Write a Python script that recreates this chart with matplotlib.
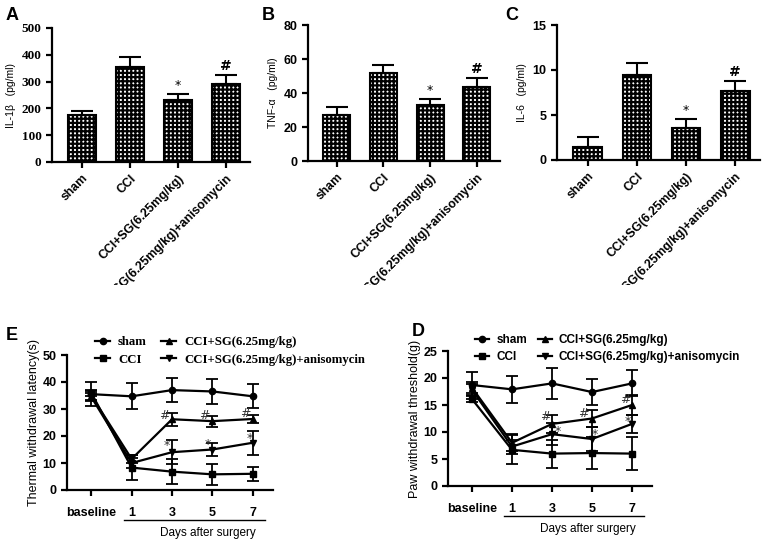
import matplotlib
matplotlib.use("Agg")
import matplotlib.pyplot as plt
import matplotlib.transforms as mtransforms
from matplotlib.lines import Line2D
import numpy as np

plt.rcParams['hatch.linewidth'] = 1.6

groups = ["sham", "CCI", "CCI+SG(6.25mg/kg)", "CCI+SG(6.25mg/kg)+anisomycin"]
il1b = [175, 355, 233, 290]
il1b_err = [15, 37, 22, 35]
tnfa = [27, 52, 33, 43.5]
tnfa_err = [5, 4.5, 3.5, 5.5]
il6 = [1.5, 9.5, 3.6, 7.7]
il6_err = [1.1, 1.3, 1.0, 1.1]
bar_marks = ["", "", "*", "#"]

days = ["baseline", "1", "3", "5", "7"]
series = ["sham", "CCI", "CCI+SG(6.25mg/kg)", "CCI+SG(6.25mg/kg)+anisomycin"]
markers = ["o", "s", "^", "v"]

tw = {
    "sham": [35.5, 34.7, 37.0, 36.5, 34.7],
    "CCI": [36.0, 8.3, 6.8, 5.8, 6.0],
    "CCI+SG(6.25mg/kg)": [35.0, 11.5, 26.2, 25.5, 26.3],
    "CCI+SG(6.25mg/kg)+anisomycin": [34.5, 10.0, 14.0, 15.0, 17.5],
}
tw_err = {
    "sham": [4.5, 4.8, 4.5, 4.5, 4.5],
    "CCI": [1.2, 4.5, 4.5, 4.0, 2.5],
    "CCI+SG(6.25mg/kg)": [1.5, 1.5, 2.5, 2.0, 1.5],
    "CCI+SG(6.25mg/kg)+anisomycin": [1.5, 2.0, 4.5, 2.5, 4.5],
}
pw = {
    "sham": [18.7, 17.9, 19.0, 17.4, 19.0],
    "CCI": [16.1, 6.7, 6.0, 6.1, 6.0],
    "CCI+SG(6.25mg/kg)": [18.2, 8.0, 11.5, 12.5, 15.0],
    "CCI+SG(6.25mg/kg)+anisomycin": [17.8, 7.3, 9.6, 8.7, 11.5],
}
pw_err = {
    "sham": [2.5, 2.5, 2.8, 2.4, 2.4],
    "CCI": [0.5, 2.7, 2.6, 2.9, 3.0],
    "CCI+SG(6.25mg/kg)": [1.0, 1.6, 1.6, 1.5, 1.8],
    "CCI+SG(6.25mg/kg)+anisomycin": [1.0, 1.3, 2.0, 2.3, 1.7],
}
tw_marks = [("#", 2, -0.2, 27.5), ("#", 3, -0.2, 27.5), ("#", 4, -0.18, 28.5),
            ("*", 2, -0.12, 16.5), ("*", 3, -0.12, 16.8), ("*", 4, -0.08, 19.0)]
pw_marks = [("#", 2, -0.18, 12.8), ("#", 3, -0.22, 13.5), ("#", 4, -0.18, 16.1),
            ("*", 2, 0.15, 10.0), ("*", 3, 0.08, 9.6), ("*", 4, -0.1, 12.0)]

W, H = 764, 542
fig = plt.figure(figsize=(W / 100, H / 100), dpi=100)
top_clip = mtransforms.TransformedBbox(
    mtransforms.Bbox([[0, 1 - 285 / H], [1, 1]]), fig.transFigure)


def ax_at(l, r, t, b):
    return fig.add_axes([l / W, 1 - b / H, (r - l) / W, (b - t) / H])


def style(ax, lw=1.6):
    for s in ["top", "right"]:
        ax.spines[s].set_visible(False)
    for s in ["left", "bottom"]:
        ax.spines[s].set_linewidth(lw)
    ax.tick_params(width=lw, length=4, direction="out")


def bar_panel(ax, vals, errs, ylim, yticks, ylabel, serif_ticks=False):
    x = np.arange(len(groups))
    ax.bar(x, vals, width=0.58, color="white", edgecolor="black", hatch="++++",
           linewidth=1.5, zorder=2)
    ax.errorbar(x, vals, yerr=[np.zeros(len(errs)), errs], fmt="none",
                ecolor="black", elinewidth=1.5, capsize=8, capthick=1.5, zorder=3)
    for xi, v, e, m in zip(x, vals, errs, bar_marks):
        if m:
            ax.text(xi, v + e + ylim[1] * 0.015, m, ha="center", va="bottom",
                    fontsize=10 if m == "#" else 9, fontweight="bold" if m == "#" else "normal")
    ax.set_xlim(-0.62, 3.5)
    ax.set_ylim(*ylim)
    ax.set_yticks(yticks)
    ax.set_xticks(x)
    ax.set_xticklabels(groups, rotation=45, ha="right", rotation_mode="anchor",
                       fontsize=8.8, fontweight="bold", family="Liberation Sans")
    for lab in ax.get_xticklabels():
        lab.set_clip_box(top_clip)
        lab.set_clip_on(True)
    fam = "Liberation Serif" if serif_ticks else "Liberation Sans"
    for lab in ax.get_yticklabels():
        lab.set_fontfamily(fam)
        lab.set_fontweight("bold")
        lab.set_fontsize(9.5 if serif_ticks else 9)
    ax.set_ylabel(ylabel, fontsize=7.5, family="Liberation Sans")
    style(ax)


axA = ax_at(52, 250, 28, 162)
bar_panel(axA, il1b, il1b_err, (0, 500), [0, 100, 200, 300, 400, 500], "IL-1β   (pg/ml)", serif_ticks=True)
axB = ax_at(308, 500, 25, 161)
bar_panel(axB, tnfa, tnfa_err, (0, 80), [0, 20, 40, 60, 80], "TNF-α   (pg/ml)")
axC = ax_at(557, 760, 25, 160)
bar_panel(axC, il6, il6_err, (0, 15), [0, 5, 10, 15], "IL-6   (pg/ml)")


def line_panel(ax, data, errs, ylim, yticks, ylabel, marks):
    x = np.arange(len(days))
    for s, m in zip(series, markers):
        ax.errorbar(x, data[s], yerr=errs[s], color="black", marker=m, markersize=4.5,
                    linewidth=1.6, elinewidth=1.3, capsize=4, capthick=1.3)
    for sym, idx, dx, y in marks:
        ax.text(idx + dx, y, sym, ha="center", va="center", fontsize=9, color="#333333")
    ax.set_xlim(-0.6, 4.5)
    ax.set_ylim(*ylim)
    ax.set_yticks(yticks)
    ax.set_xticks(x)
    ax.set_xticklabels(days, fontsize=9, fontweight="bold", family="Liberation Sans")
    ax.tick_params(axis="x", pad=8)
    for lab in ax.get_yticklabels():
        lab.set_fontfamily("Liberation Sans")
        lab.set_fontweight("bold")
        lab.set_fontsize(9)
    ax.set_ylabel(ylabel, fontsize=9, family="Liberation Sans", labelpad=2)
    style(ax)
    trans = mtransforms.blended_transform_factory(ax.transData, ax.transAxes)
    ax.add_line(Line2D([0.8, 4.3], [-0.225, -0.225], transform=trans, color="black",
                       linewidth=1.0, clip_on=False))
    ax.text(2.9, -0.32, "Days after surgery", transform=trans, ha="center", va="center",
            fontsize=8.5, family="Liberation Sans")


axE = ax_at(67, 273, 355, 490)
line_panel(axE, tw, tw_err, (0, 50), [0, 10, 20, 30, 40, 50], "Thermal withdrawal latency(s)", tw_marks)
axD = ax_at(448, 652, 351, 486)
line_panel(axD, pw, pw_err, (0, 25), [0, 5, 10, 15, 20, 25], "Paw withdrawal threshold(g)", pw_marks)


def legend_for(x0, y0, family, size, colsp):
    handles = [Line2D([], [], color="black", marker=m, markersize=4.5, linewidth=1.6)
               for m in markers]
    fig.legend(handles, series, ncol=2,
               loc="upper left", bbox_to_anchor=(x0 / W, 1 - y0 / H), frameon=False,
               handlelength=1.2, handletextpad=0.6, columnspacing=colsp, labelspacing=0.45,
               borderaxespad=0, borderpad=0,
               prop={"family": family, "weight": "bold", "size": size})


legend_for(95, 336, "Liberation Serif", 9.2, 1.1)
legend_for(475, 334, "Liberation Sans", 8.5, 0.9)

for lab, x, y in [("A", 6, 16), ("B", 262, 16), ("C", 505, 16), ("E", 6, 336), ("D", 412, 332)]:
    fig.text(x / W, 1 - y / H, lab, fontsize=13, fontweight="bold", family="Liberation Sans",
             ha="left", va="center")

fig.savefig("out.png", dpi=100)
